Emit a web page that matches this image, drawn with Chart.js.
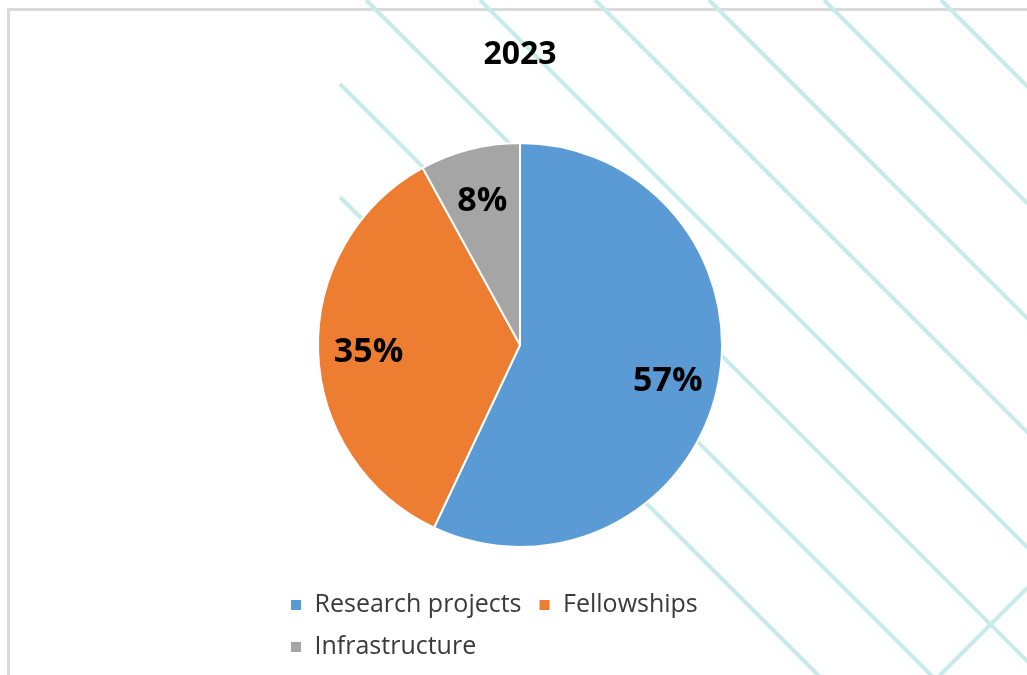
<!DOCTYPE html>
<html>
<head>
<meta charset="utf-8">
<script src="https://cdn.jsdelivr.net/npm/chart.js@4.4.1/dist/chart.umd.min.js"></script>
<style>
    body { margin: 0; background: #fff; }
    #wrap { position: relative; width: 1027px; height: 675px; overflow: hidden; }
    #frame {
        position: absolute; left: 7px; top: 8px; right: -10px; bottom: -10px;
        border-top: 3px solid #dadada; border-left: 3px solid #dadada;
    }
    #chart { position: absolute; left: 0; top: 0; }
</style>
</head>
<body>
<div id="wrap">
    <div id="frame"></div>
    <canvas id="chart" width="1027" height="675"></canvas>
</div>
<script>
// chart data
const chartTitle = "2023";
const categories = ["Research projects", "Fellowships", "Infrastructure"];
const shares = [57, 35, 8];
const sliceColors = ["#5B9BD5", "#ED7D31", "#A5A5A5"];

const fontFamily = "'Open Sans', 'Liberation Sans', sans-serif";

// decorative diagonal stripes behind the chart
const stripesPlugin = {
    id: "stripes",
    beforeDraw(chart) {
        let ctx = chart.ctx;
        ctx.save();
        ctx.strokeStyle = "#c6ebe9";
        ctx.lineWidth = 4;
        let offsets = [143, 256, 366, 480, 595, 709, 824, 941];
        offsets.forEach(c => {
            let x0 = Math.max(340, c);
            let y0 = x0 - c;
            ctx.beginPath();
            ctx.moveTo(x0, y0);
            ctx.lineTo(x0 + 800, y0 + 800);
            ctx.stroke();
        });
        // the one stripe going the other way, bottom right
        ctx.beginPath();
        ctx.moveTo(900, 715);
        ctx.lineTo(1100, 515);
        ctx.stroke();
        ctx.restore();
    }
};

// percentage labels inside the slices
const sliceLabelsPlugin = {
    id: "sliceLabels",
    afterDatasetsDraw(chart) {
        let ctx = chart.ctx;
        let meta = chart.getDatasetMeta(0);
        ctx.save();
        ctx.fillStyle = "#000";
        ctx.font = "bold 34px " + fontFamily;
        ctx.textAlign = "center";
        ctx.textBaseline = "middle";
        meta.data.forEach((arc, i) => {
            let p = arc.getProps(["x", "y", "startAngle", "endAngle", "outerRadius"], true);
            let mid = (p.startAngle + p.endAngle) / 2;
            let r = p.outerRadius * 0.75;
            ctx.fillText(shares[i] + "%", p.x + Math.cos(mid) * r, p.y + Math.sin(mid) * r + 3);
        });
        ctx.restore();
    }
};

let ctx = document.getElementById("chart").getContext("2d");

new Chart(ctx, {
    type: "pie",
    data: {
        labels: categories,
        datasets: [{
            data: shares,
            backgroundColor: sliceColors,
            borderColor: "#ffffff",
            borderWidth: 2,
            radius: 202
        }]
    },
    options: {
        responsive: false,
        animation: false,
        layout: {
            padding: { left: 273, right: 260, top: 20, bottom: 5.5 }
        },
        plugins: {
            title: {
                display: true,
                text: chartTitle,
                color: "#000",
                font: { family: fontFamily, size: 32, weight: "bold" },
                padding: { top: 16, bottom: 40 }
            },
            legend: {
                position: "bottom",
                align: "start",
                labels: {
                    boxWidth: 12,
                    boxHeight: 12,
                    padding: 17,
                    color: "#3a3a3a",
                    font: { family: fontFamily, size: 25 }
                }
            },
            tooltip: { enabled: false }
        }
    },
    plugins: [stripesPlugin, sliceLabelsPlugin]
});
</script>
</body>
</html>
